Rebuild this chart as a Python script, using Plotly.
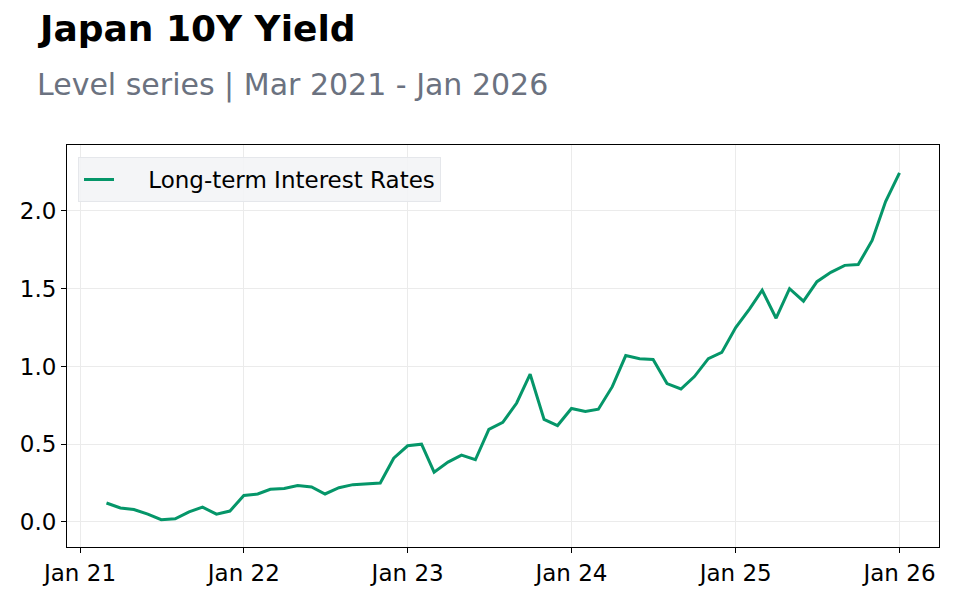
import plotly.graph_objects as go
import pandas as pd

dates = pd.date_range("2021-03-01", "2026-01-01", freq="MS")
values = [
    0.122, 0.09, 0.08, 0.05, 0.015, 0.02, 0.065, 0.095, 0.05, 0.07,
    0.17, 0.18, 0.21, 0.215, 0.235, 0.225, 0.18, 0.22, 0.24, 0.245, 0.25, 0.41,
    0.49, 0.50, 0.32, 0.385, 0.43, 0.40, 0.595, 0.64, 0.765, 0.95, 0.66, 0.62,
    0.73, 0.71, 0.725, 0.87, 1.07, 1.05, 1.045, 0.89, 0.855, 0.935, 1.05, 1.09,
    1.25, 1.37, 1.49, 1.31, 1.50, 1.42, 1.545, 1.605, 1.65, 1.655, 1.81, 2.06,
    2.245,
]
tick_dates = ["2021-01-01", "2022-01-01", "2023-01-01", "2024-01-01", "2025-01-01", "2026-01-01"]
tick_labels = ["Jan 21", "Jan 22", "Jan 23", "Jan 24", "Jan 25", "Jan 26"]
series_name = "Long-term Interest Rates"
title = "Japan 10Y Yield"
subtitle = "Level series | Mar 2021 - Jan 2026"

FONT = "DejaVu Sans"
fig = go.Figure()
fig.add_trace(go.Scatter(
    x=dates, y=values, mode="lines", name="&nbsp;" * 4 + series_name,
    line=dict(color="#059669", width=3),
))

axis_common = dict(
    showgrid=True, gridcolor="#ebebeb", gridwidth=1,
    showline=True, linecolor="black", linewidth=1, mirror=True,
    ticks="outside", ticklen=5, tickcolor="black",
    tickfont=dict(family=FONT, size=23, color="black"),
    zeroline=False,
)

fig.update_layout(
    width=960, height=600,
    margin=dict(l=67, r=21, t=145, b=53),
    paper_bgcolor="white", plot_bgcolor="white",
    font=dict(family=FONT, size=22, color="black"),
    showlegend=True,
    legend=dict(x=0.0126, y=0.97, xanchor="left", yanchor="top",
                bgcolor="rgba(243,244,246,0.9)", bordercolor="#e5e7eb", borderwidth=1,
                font=dict(family=FONT, size=23, color="black")),
    xaxis=dict(
        range=["2020-12-03", "2026-03-30"],
        tickvals=tick_dates, ticktext=tick_labels,
        **axis_common,
    ),
    yaxis=dict(
        range=[-0.161, 2.424],
        tickvals=[0, 0.5, 1.0, 1.5, 2.0], ticktext=["0.0", "0.5", "1.0", "1.5", "2.0"],
        **axis_common,
    ),
    annotations=[
        dict(
            text=f"<b>{title}</b>", xref="paper", yref="paper",
            x=(35 - 67) / 872, y=(547 - 29) / 402, xanchor="left", yanchor="middle",
            showarrow=False, font=dict(family=FONT, size=36, color="black"),
        ),
        dict(
            text=subtitle, xref="paper", yref="paper",
            x=(35 - 67) / 872, y=(547 - 85) / 402, xanchor="left", yanchor="middle",
            showarrow=False, font=dict(family=FONT, size=30, color="#6b7280"),
        ),
    ],
)

fig.write_html("out.html")
